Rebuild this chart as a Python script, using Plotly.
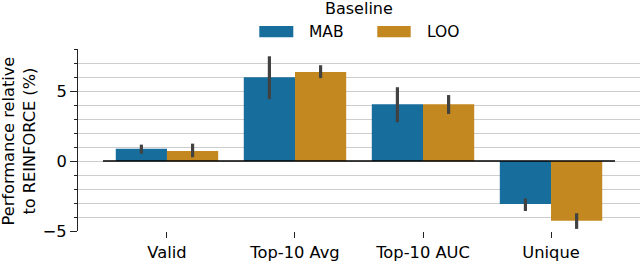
import plotly.graph_objects as go

categories = ["Valid", "Top-10 Avg", "Top-10 AUC", "Unique"]
series_names = ["MAB", "LOO"]
mab_mean = [0.88, 5.98, 4.05, -3.07]
mab_lo = [0.52, 4.42, 2.77, -3.57]
mab_hi = [1.17, 7.48, 5.27, -2.67]
loo_mean = [0.72, 6.36, 4.06, -4.26]
loo_lo = [0.27, 5.92, 3.36, -4.85]
loo_hi = [1.24, 6.84, 4.71, -3.73]
ytick_vals = [-5, 0, 5]
ytick_text = ["\u22125", "0", "5"]

colors = ["#176d9c", "#c3881f"]
FONT = "DejaVu Sans"

fig = go.Figure()
for name, mean, lo, hi, col in [
    (series_names[0], mab_mean, mab_lo, mab_hi, colors[0]),
    (series_names[1], loo_mean, loo_lo, loo_hi, colors[1]),
]:
    fig.add_trace(go.Bar(
        x=categories, y=mean, name=name, marker=dict(color=col, line=dict(width=0)),
        showlegend=False,
        error_y=dict(type="data", symmetric=False,
                     array=[h - m for h, m in zip(hi, mean)],
                     arrayminus=[m - l for m, l in zip(mean, lo)],
                     color="#424242", thickness=3.2, width=0),
    ))

# zero line spanning the categories only
fig.add_shape(type="line", xref="x", yref="y", x0=-0.5, x1=len(categories) - 0.5,
              y0=0, y1=0, line=dict(color="black", width=1.6), layer="above")

L, R, T, B = 78, 0, 49, 32
W, H = 640, 263
pw, ph = W - L - R, H - T - B

def px(x):
    return (x - L) / pw

def py(y):
    return (H - B - y) / ph

# legend (manual)
sw = [(259.3, 293.3, 307.3), (377.3, 410.7, 425.0)]
for (x0, x1, tx), name, col in zip(sw, series_names, colors):
    fig.add_shape(type="rect", xref="paper", yref="paper", x0=px(x0), x1=px(x1),
                  y0=py(37.3), y1=py(26), fillcolor=col, line=dict(width=0))
    fig.add_annotation(xref="paper", yref="paper", x=px(tx), y=py(31.7), text=name,
                       showarrow=False, xanchor="left", yanchor="middle",
                       font=dict(family=FONT, size=15.5, color="black"))
fig.add_annotation(xref="paper", yref="paper", x=px(359), y=py(8.5), text="Baseline",
                   showarrow=False, xanchor="center", yanchor="middle",
                   font=dict(family=FONT, size=16, color="black"))

# y-axis title
fig.add_annotation(xref="paper", yref="paper", x=px(18.5), y=py(141),
                   text="Performance relative<br>to REINFORCE (%)", textangle=-90,
                   showarrow=False, xanchor="center", yanchor="middle",
                   font=dict(family=FONT, size=16.2, color="black"))

fig.update_layout(
    width=W, height=H, margin=dict(l=L, r=R, t=T, b=B, autoexpand=False),
    paper_bgcolor="white", plot_bgcolor="white",
    barmode="group", bargap=0.2, bargroupgap=0,
    font=dict(family=FONT, size=16, color="black"),
)
fig.update_xaxes(range=[-0.695, 3.695], showline=False, showgrid=False, zeroline=False,
                 ticks="outside", ticklen=6, tickwidth=1, tickcolor="#222",
                 tickfont=dict(family=FONT, size=16.3, color="black"))
fig.update_yaxes(range=[-5, 8], tickmode="array", tickvals=ytick_vals, ticktext=ytick_text,
                 showline=True, linecolor="#222", linewidth=1,
                 ticks="outside", ticklen=7, tickwidth=1, tickcolor="#222",
                 showgrid=True, gridcolor="#cdcdcd", gridwidth=1.2, zeroline=False,
                 minor=dict(tickmode="linear", tick0=0, dtick=1, ticks="outside", ticklen=3.5,
                            tickcolor="#222", showgrid=True, gridcolor="#cdcdcd", gridwidth=1.2),
                 tickfont=dict(family=FONT, size=16.3, color="black"))

fig.write_html("out.html", config={"displayModeBar": False},
               post_script="document.body.style.margin='0';document.body.style.overflow='hidden';")
